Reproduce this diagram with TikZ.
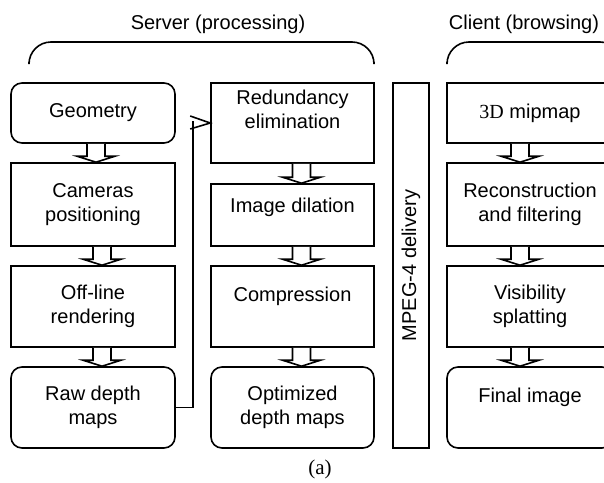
\documentclass[tikz,border=0pt]{standalone}
\usepackage{fontspec}
\setmainfont{Liberation Sans}
\newfontfamily\serffont{Liberation Serif}

\tikzset{
	stage/.style={draw, line width=1.6pt, minimum width=164pt, align=center,
		inner sep=0pt, font=\fontsize{20}{24}\selectfont},
	rstage/.style={stage, rounded corners=11pt},
	brace/.style={line width=1.6pt, rounded corners=22pt},
	wide/.style={draw, fill=white, line width=1.6pt, line join=miter},
	title/.style={font=\fontsize{20}{24}\selectfont}
}

% hollow block arrow: #1 shift, #2 from, #3 to
\newcommand{\fatarrow}[3]{%
	\draw[wide] ([xshift={#1pt-9pt}]#2.south) -- ([xshift={#1pt-9pt},yshift=6pt]#3.north)
	-- ([xshift={#1pt-19pt},yshift=6pt]#3.north) -- ([xshift=#1pt]#3.north)
	-- ([xshift={#1pt+19pt},yshift=6pt]#3.north) -- ([xshift={#1pt+9pt},yshift=6pt]#3.north)
	-- ([xshift={#1pt+9pt}]#2.south);
}

\begin{document}
\begin{tikzpicture}[x=1pt, y=-1pt]
	\clip (0,0) rectangle (604,482);
	
	% headers
	\node[title] (srv) at (218,24) {Server (processing)};
	\node[title] (cli) at (524,24) {Client (browsing)};
	\draw[brace] (29,62) |- (374,42) -- (374,62);
	\draw[brace] (447,62) |- (622,42) -- (622,62);
	
	% server, first column
	\node[rstage, minimum height=60pt] (geo) at (93,113) {Geometry};
	\node[stage, minimum height=83pt] (cam) at (93,204.5) {Cameras\\positioning};
	\node[stage, minimum height=81pt] (off) at (93,306.5) {Off-line\\rendering};
	\node[rstage, minimum height=81pt] (raw) at (93,407.5) {Raw depth\\maps};
	
	% server, second column
	\node[stage, minimum width=163pt, minimum height=80pt] (red) at (292.5,123) {Redundancy\\elimination\\[4pt]};
	\node[stage, minimum width=163pt, minimum height=62pt] (dil) at (292.5,215) {Image dilation\\[-4pt]\mbox{}};
	\node[stage, minimum width=163pt, minimum height=81pt] (com) at (292.5,306.5) {Compression\\\mbox{}};
	\node[rstage, minimum width=163pt, minimum height=81pt] (opt) at (292.5,407.5) {Optimized\\depth maps};
	
	% delivery
	\node[draw, line width=1.6pt, rotate=90, minimum width=365pt, minimum height=36pt,
		inner sep=0pt, font=\fontsize{20}{24}\selectfont] (mpeg) at (411,265.5) {MPEG-4 delivery};
	
	% client
	\node[stage, minimum width=166pt, minimum height=60pt] (mip) at (530,113) {{\serffont 3D} mipmap};
	\node[stage, minimum width=166pt, minimum height=83pt] (rec) at (530,204.5) {Reconstruction\\and filtering};
	\node[stage, minimum width=166pt, minimum height=81pt] (vis) at (530,306.5) {Visibility\\splatting};
	\node[rstage, minimum width=166pt, minimum height=81pt] (fin) at (530,407.5) {Final image\\\mbox{}};
	
	\fatarrow{3}{geo}{cam}
	\fatarrow{9}{cam}{off}
	\fatarrow{9}{off}{raw}
	\fatarrow{9}{red}{dil}
	\fatarrow{9}{dil}{com}
	\fatarrow{9}{com}{opt}
	\fatarrow{-10}{mip}{rec}
	\fatarrow{-10}{rec}{vis}
	\fatarrow{-10}{vis}{fin}
	
	% raw maps go back to the second column
	\coordinate (bend) at (193,121);
	\draw[line width=1.6pt] (raw.east) -| (bend);
	\draw[line width=1.6pt] ([xshift=-20pt,yshift=7pt]red.west) -- (red.west) -- ([xshift=-20pt,yshift=-6pt]red.west);
	
	\node[font=\serffont\fontsize{21}{24}\selectfont] (cap) at (320,469) {(a)};
\end{tikzpicture}
\end{document}
